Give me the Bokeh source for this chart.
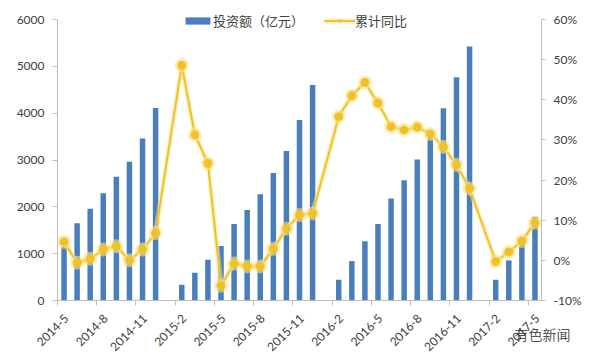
import math
from bokeh.plotting import figure
from bokeh.models import (Range1d, LinearAxis, FixedTicker, Legend, LegendItem,
                          ColumnDataSource, Label)
from bokeh.embed import file_html
from bokeh.resources import INLINE

months = ["2014-5", "2014-6", "2014-7", "2014-8", "2014-9", "2014-10", "2014-11", "2014-12",
          "2015-1", "2015-2", "2015-3", "2015-4", "2015-5", "2015-6", "2015-7", "2015-8",
          "2015-9", "2015-10", "2015-11", "2015-12", "2016-1", "2016-2", "2016-3", "2016-4",
          "2016-5", "2016-6", "2016-7", "2016-8", "2016-9", "2016-10", "2016-11", "2016-12",
          "2017-1", "2017-2", "2017-3", "2017-4", "2017-5"]

invest = [1150, 1650, 1960, 2290, 2640, 2960, 3460, 4110,
          None, 336, 593, 871, 1163, 1634, 1934, 2270, 2720, 3190, 3854, 4604,
          None, 443, 842, 1263, 1634, 2178, 2570, 3013, 3462, 4104, 4769, 5425,
          None, 443, 857, 1200, 1790]

yoy = [4.6, -0.6, 0.4, 2.7, 3.5, 0.0, 2.7, 6.8,
       None, 48.6, 31.3, 24.2, -6.3, -0.8, -1.5, -1.5, 2.9, 7.9, 11.3, 11.7,
       None, 35.8, 41.0, 44.3, 39.2, 33.3, 32.5, 33.2, 31.5, 28.3, 23.8, 17.9,
       None, -0.3, 2.1, 4.8, 9.4]

left_ticks = [0, 1000, 2000, 3000, 4000, 5000, 6000]
right_ticks = [-10, 0, 10, 20, 30, 40, 50, 60]

bar_label = "投资额（亿元）"
line_label = "累计同比"
watermark = "有色新闻"

BLUE = "#4A7EBB"
GOLD = "#F0C228"
GLOW = "#F8E38C"
AXIS = "#BFBFBF"
TXT = "#404040"
NUM_FONT = "Lato"
CJK_FONT = "Noto Sans CJK SC"

# layout (pixels): the frame covers the whole canvas, axes are pinned inside it
W, H = 590, 359
PL, PR, PT, PB = 57, 541, 19, 300        # plot-area edges in the picture
n = len(months)
px_per_cat = (PR - PL) / n
x_lo = -0.5 - PL / px_per_cat
x_hi = n - 0.5 + (W - PR) / px_per_cat
ax_h = PB - PT
l_span = left_ticks[-1] - left_ticks[0]
r_span = right_ticks[-1] - right_ticks[0]
l_lo = left_ticks[0] - l_span * (H - PB) / ax_h
l_hi = left_ticks[-1] + l_span * PT / ax_h
r_lo = right_ticks[0] - r_span * (H - PB) / ax_h
r_hi = right_ticks[-1] + r_span * PT / ax_h
LABEL_SHIFT = 0.2        # nudge rotated tick labels slightly right of the category centre

idx = list(range(n))
bar_src = ColumnDataSource(dict(
    x=[i for i, v in zip(idx, invest) if v is not None],
    top=[v for v in invest if v is not None]))
line_src = ColumnDataSource(dict(
    x=[i for i, v in zip(idx, yoy) if v is not None],
    y=[v for v in yoy if v is not None]))

p = figure(width=W, height=H, output_backend="svg", toolbar_location=None,
           x_range=Range1d(x_lo, x_hi), y_range=Range1d(l_lo, l_hi),
           min_border_left=0, min_border_right=0, min_border_top=0,
           min_border_bottom=0)
p.outline_line_color = None
p.xgrid.visible = False
p.ygrid.visible = False
p.background_fill_color = "white"
p.border_fill_color = "white"
p.extra_y_ranges = {"pct": Range1d(r_lo, r_hi)}

# bottom axis, pinned at the zero line
xa = p.xaxis[0]
xa.fixed_location = left_ticks[0]
xa.bounds = (-0.5, n - 0.5)
label_pos = list(range(0, n, 3))
tick_pos = [i + LABEL_SHIFT for i in label_pos]
xa.ticker = FixedTicker(ticks=tick_pos,
                        minor_ticks=[i - 0.5 for i in label_pos if i - 0.5 < n - 1])
xa.major_label_overrides = {t: months[i] for t, i in zip(tick_pos, label_pos)}
xa.major_label_orientation = math.pi / 4
xa.major_tick_line_color = None
xa.minor_tick_line_color = AXIS
xa.minor_tick_out = 5
xa.minor_tick_in = 0
xa.axis_line_color = AXIS
xa.major_label_text_font = NUM_FONT
xa.major_label_text_font_size = "12px"
xa.major_label_text_color = TXT
xa.major_label_standoff = 10

# left axis, pinned at the left edge of the categories
ya = p.yaxis[0]
ya.fixed_location = -0.5
ya.ticker = FixedTicker(ticks=left_ticks)
ya.bounds = (left_ticks[0], left_ticks[-1])
ya.major_label_overrides = {v: str(v) for v in left_ticks}
ya.minor_tick_line_color = None
ya.major_tick_out = 5
ya.major_tick_in = 0
ya.major_tick_line_color = AXIS
ya.axis_line_color = AXIS
ya.major_label_text_font = NUM_FONT
ya.major_label_text_font_size = "12px"
ya.major_label_text_color = TXT
ya.major_label_standoff = 8

# right axis, pinned at the right edge of the categories
ra = LinearAxis(y_range_name="pct", ticker=FixedTicker(ticks=right_ticks),
                bounds=(right_ticks[0], right_ticks[-1]), fixed_location=n - 0.5)
ra.major_label_overrides = {v: f"{v}%" for v in right_ticks}
ra.minor_tick_line_color = None
ra.major_tick_out = 4
ra.major_tick_in = 0
ra.major_tick_line_color = AXIS
ra.axis_line_color = AXIS
ra.major_label_text_font = NUM_FONT
ra.major_label_text_font_size = "12px"
ra.major_label_text_color = TXT
ra.major_label_standoff = 8
p.add_layout(ra, "right")

bars = p.vbar(x="x", top="top", width=0.42, source=bar_src,
              fill_color=BLUE, line_color=None)

glow_line = p.line(x="x", y="y", source=line_src, y_range_name="pct",
                   line_width=5, line_color=GLOW, line_alpha=0.55)
core_line = p.line(x="x", y="y", source=line_src, y_range_name="pct",
                   line_width=2, line_color=GOLD)
glow_pts = p.scatter(x="x", y="y", source=line_src, y_range_name="pct",
                     size=14, fill_color=GLOW, fill_alpha=0.6, line_color=None)
core_pts = p.scatter(x="x", y="y", source=line_src, y_range_name="pct",
                     size=9, fill_color=GOLD, line_color=None)

legend = Legend(items=[LegendItem(label=bar_label, renderers=[bars]),
                       LegendItem(label=line_label,
                                  renderers=[glow_line, core_line, glow_pts, core_pts])],
                location=(182, H - 30), orientation="horizontal",
                border_line_color=None, background_fill_alpha=0,
                padding=0, margin=0, spacing=20,
                glyph_width=31, glyph_height=9, label_height=14,
                label_standoff=0,
                label_text_font=CJK_FONT, label_text_font_size="13px",
                label_text_color=TXT)
p.add_layout(legend, "center")

wm = Label(x=514, y=H - 333, x_units="screen", y_units="screen",
           text=watermark, text_font=CJK_FONT, text_font_size="14px",
           text_color="#3C3C3C", text_alpha=0.9, text_baseline="middle",
           text_align="left")
p.add_layout(wm)

open("out.html", "w").write(file_html(p, INLINE))
